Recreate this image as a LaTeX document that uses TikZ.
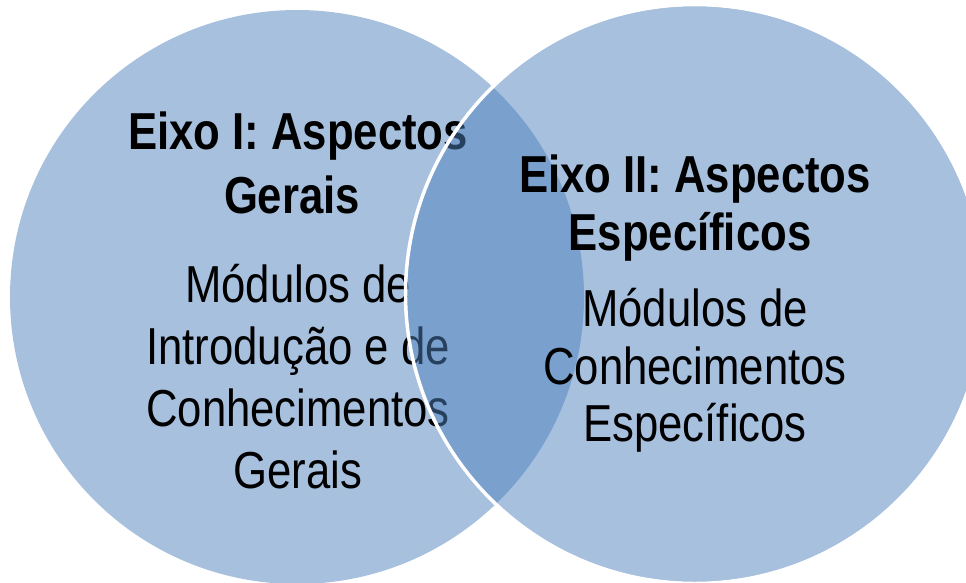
\documentclass[tikz,border=0pt]{standalone}
\usepackage{fontspec}
\setmainfont{Liberation Sans}[FakeStretch=0.84]
\definecolor{vennblue}{HTML}{4F81BD}
\tikzset{
  venn/.style={fill=vennblue, fill opacity=0.5},
  vennedge/.style={draw=white, line width=3.5pt},
  titletext/.style={anchor=base, inner sep=0pt, font=\fontsize{52}{62}\selectfont\bfseries, text=black},
  bodytext/.style={anchor=base, inner sep=0pt, font=\fontsize{52}{62}\selectfont, text=black}
}
\begin{document}
\begin{tikzpicture}[x=1pt,y=-1pt]
\useasboundingbox (0,0) rectangle (966,582);
\clip (0,0) rectangle (966,582);
% left circle
\path[venn] (297,297) circle[radius=287];
\node[titletext] (t1a) at (298,149) {Eixo I: Aspectos};
\node[titletext] (t1b) at (292,213) {Gerais};
\node[bodytext] (b1a) at (298,302) {Módulos de};
\node[bodytext] (b1b) at (298,364) {Introdução e de};
\node[bodytext] (b1c) at (298,426) {Conhecimentos};
\node[bodytext] (b1d) at (298,488) {Gerais};
% right circle
\path[venn] (695,294) circle[radius=288];
\draw[vennedge] (695,294) circle[radius=289.5];
\node[titletext] (t2a) at (695,192) {Eixo II: Aspectos};
\node[titletext] (t2b) at (690,250) {Específicos};
\node[bodytext] (b2a) at (695,326) {Módulos de};
\node[bodytext] (b2b) at (695,384) {Conhecimentos};
\node[bodytext] (b2c) at (695,441) {Específicos};
\end{tikzpicture}
\end{document}
